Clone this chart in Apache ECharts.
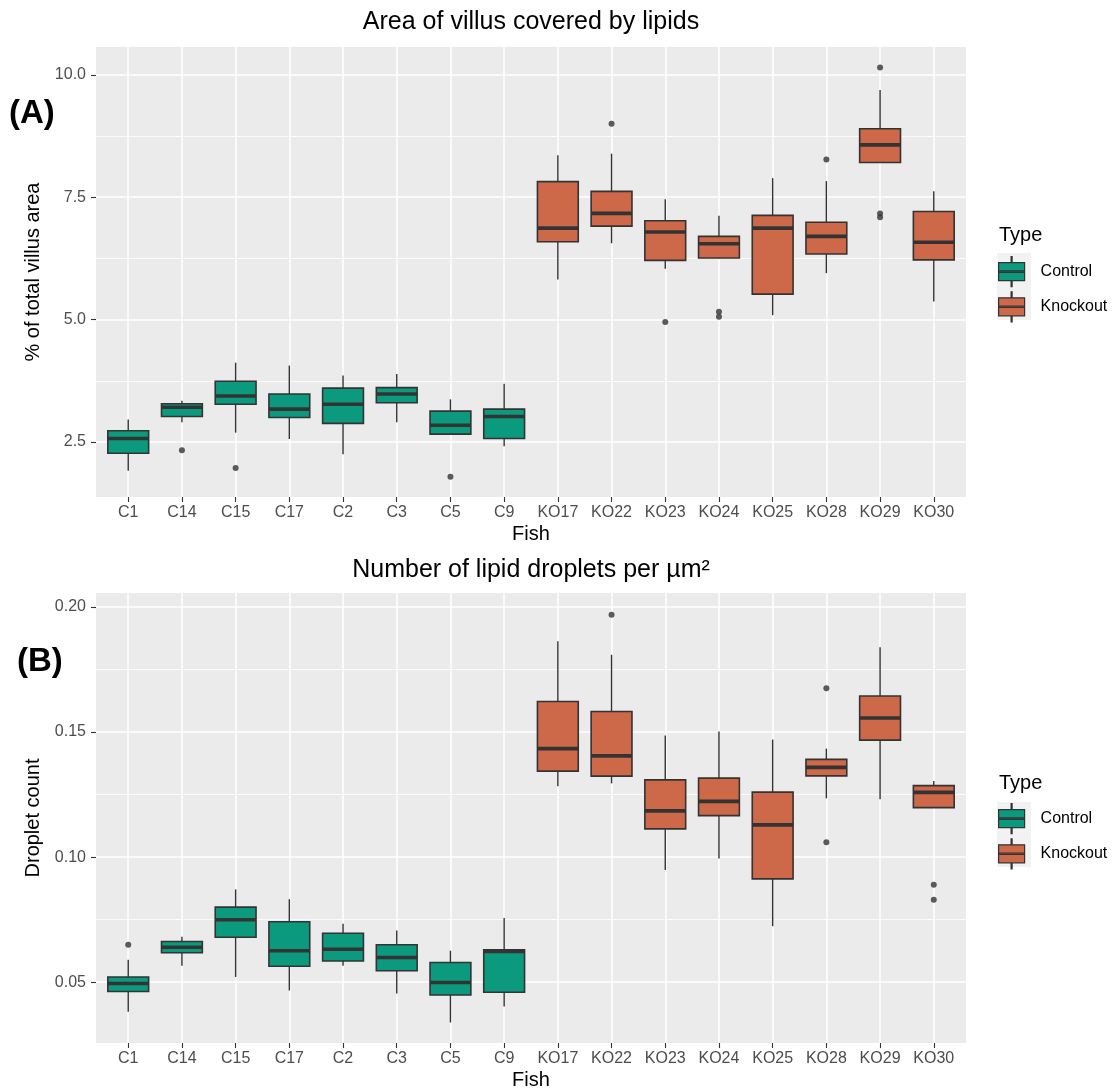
<!DOCTYPE html>
<html><head><meta charset="utf-8">
<script src="https://cdn.jsdelivr.net/npm/echarts@6/dist/echarts.min.js"></script>
<style>html,body{margin:0;padding:0;background:#fff}#c{width:1118px;height:1091px}</style>
</head><body><div id="c"></div>
<script>
// ---------- data ----------
const fish = ['C1','C14','C15','C17','C2','C3','C5','C9','KO17','KO22','KO23','KO24','KO25','KO28','KO29','KO30'];
const fishPos = [1,2,3,4,5,6,7,8,9,10,11,12,13,14,15,16];
const controlFish = ['C1','C14','C15','C17','C2','C3','C5','C9'];
const knockoutFish = ['KO17','KO22','KO23','KO24','KO25','KO28','KO29','KO30'];

// [lower whisker, Q1, median, Q3, upper whisker]
const areaControl = [
  [1.91, 2.27, 2.57, 2.73, 2.96],
  [2.90, 3.02, 3.21, 3.28, 3.34],
  [2.69, 3.27, 3.44, 3.74, 4.12],
  [2.56, 3.00, 3.17, 3.48, 4.06],
  [2.25, 2.88, 3.27, 3.60, 3.86],
  [2.90, 3.30, 3.48, 3.61, 3.89],
  [2.66, 2.66, 2.84, 3.13, 3.37],
  [2.41, 2.57, 3.02, 3.17, 3.69]
];
const areaKnockout = [
  [5.82, 6.59, 6.87, 7.82, 8.36],
  [6.56, 6.91, 7.17, 7.62, 8.39],
  [6.04, 6.21, 6.79, 7.02, 7.46],
  [6.25, 6.26, 6.55, 6.70, 7.12],
  [5.09, 5.52, 6.87, 7.13, 7.89],
  [5.95, 6.34, 6.70, 6.99, 7.83],
  [8.20, 8.21, 8.57, 8.90, 9.69],
  [5.37, 6.22, 6.58, 7.21, 7.62]
];
const areaOutliers = [
  ['C14', 2.33], ['C15', 1.97], ['C5', 1.79],
  ['KO22', 9.00], ['KO23', 4.95], ['KO24', 5.16], ['KO24', 5.06],
  ['KO28', 8.27], ['KO29', 10.15], ['KO29', 7.17], ['KO29', 7.09]
];

const dropControl = [
  [0.0382, 0.0463, 0.0495, 0.0521, 0.0590],
  [0.0566, 0.0618, 0.0640, 0.0663, 0.0682],
  [0.0521, 0.0680, 0.0750, 0.0800, 0.0871],
  [0.0467, 0.0564, 0.0626, 0.0742, 0.0832],
  [0.0566, 0.0585, 0.0632, 0.0696, 0.0734],
  [0.0455, 0.0546, 0.0599, 0.0650, 0.0707],
  [0.0339, 0.0449, 0.0499, 0.0579, 0.0626],
  [0.0403, 0.0460, 0.0623, 0.0630, 0.0757]
];
const dropKnockout = [
  [0.1283, 0.1344, 0.1434, 0.1622, 0.1863],
  [0.1295, 0.1324, 0.1405, 0.1582, 0.1809],
  [0.0949, 0.1113, 0.1185, 0.1309, 0.1486],
  [0.0995, 0.1166, 0.1223, 0.1316, 0.1502],
  [0.0724, 0.0913, 0.1129, 0.1260, 0.1470],
  [0.1235, 0.1325, 0.1359, 0.1391, 0.1434],
  [0.1231, 0.1468, 0.1556, 0.1644, 0.1839],
  [0.1198, 0.1198, 0.1259, 0.1286, 0.1304]
];
const dropOutliers = [
  ['C1', 0.0650],
  ['KO22', 0.1969], ['KO28', 0.1675], ['KO28', 0.1060],
  ['KO30', 0.0890], ['KO30', 0.0830]
];

const areaTicks = [2.5, 5.0, 7.5, 10.0];
const areaMinorTicks = [3.75, 6.25, 8.75];
const areaRange = [1.375, 10.57];
const dropTicks = [0.05, 0.10, 0.15, 0.20];
const dropMinorTicks = [0.075, 0.125, 0.175];
const dropRange = [0.0257, 0.2056];

const typeNames = ['Control', 'Knockout'];

// ---------- styles ----------
const FONT = '"Liberation Sans", Arial, sans-serif';
const COL_CONTROL = '#0B9A7E';
const COL_KO = '#CD6849';
const DARK = '#333333';

function pos(name) { return fishPos[fish.indexOf(name)]; }
function boxData(names, stats) { return names.map((n, i) => [pos(n)].concat(stats[i])); }
function outData(list) { return list.map(o => [pos(o[0]), o[1]]); }

function renderBox(params, api) {
  const x = api.value(0);
  const lo = api.coord([x, api.value(1)]);
  const q1 = api.coord([x, api.value(2)]);
  const md = api.coord([x, api.value(3)]);
  const q3 = api.coord([x, api.value(4)]);
  const hi = api.coord([x, api.value(5)]);
  const w = api.size([0.76, 0])[0];
  const cx = lo[0];
  const ls = { stroke: DARK, lineWidth: 1.4 };
  return {
    type: 'group',
    children: [
      { type: 'line', shape: { x1: cx, y1: hi[1], x2: cx, y2: q3[1] }, style: ls },
      { type: 'line', shape: { x1: cx, y1: q1[1], x2: cx, y2: lo[1] }, style: ls },
      { type: 'rect', shape: { x: cx - w / 2, y: q3[1], width: w, height: q1[1] - q3[1] },
        style: { fill: api.visual('color'), stroke: DARK, lineWidth: 1.6 } },
      { type: 'line', shape: { x1: cx - w / 2, y1: md[1], x2: cx + w / 2, y2: md[1] },
        style: { stroke: DARK, lineWidth: 3.6 } }
    ]
  };
}

function xAx(grid) {
  return {
    type: 'value', gridIndex: grid, min: 0.4, max: 16.6,
    name: 'Fish', nameLocation: 'middle', nameGap: 27,
    nameTextStyle: { color: '#000', fontSize: 20, fontFamily: FONT },
    axisLine: { show: false },
    axisTick: { show: true, customValues: fishPos, length: 5, lineStyle: { color: DARK, width: 1.1 } },
    axisLabel: { customValues: fishPos, formatter: v => fish[Math.round(v) - 1], color: '#4D4D4D',
      fontSize: 16, margin: 8, fontFamily: FONT },
    splitLine: { show: true, lineStyle: { color: '#FFFFFF', width: 1.5 } }
  };
}
function yAx(grid, range, ticks, name, fmt) {
  return {
    type: 'value', gridIndex: grid, min: range[0], max: range[1],
    name: name, nameLocation: 'middle', nameGap: 43,
    nameTextStyle: { color: '#000', fontSize: 20, fontFamily: FONT },
    axisLine: { show: false },
    axisTick: { show: true, customValues: ticks, length: 5, lineStyle: { color: DARK, width: 1.1 } },
    axisLabel: { customValues: ticks, formatter: fmt, color: '#4D4D4D', fontSize: 16, margin: 10, fontFamily: FONT },
    splitLine: { show: true, lineStyle: { color: '#FFFFFF', width: 1.5 } }
  };
}
function yMinor(grid, range, ticks) {
  return {
    type: 'value', gridIndex: grid, min: range[0], max: range[1], position: 'left',
    axisLine: { show: false },
    axisTick: { show: false, customValues: ticks },
    axisLabel: { show: false },
    splitLine: { show: true, lineStyle: { color: '#FFFFFF', width: 0.8 } }
  };
}

function boxSeries(name, color, xi, yi, data) {
  return {
    type: 'custom', name: name, xAxisIndex: xi, yAxisIndex: yi,
    itemStyle: { color: color },
    encode: { x: 0, y: [1, 2, 3, 4, 5] },
    renderItem: renderBox, data: data, z: 3
  };
}
function outSeries(xi, yi, data) {
  return {
    type: 'scatter', name: 'outliers', xAxisIndex: xi, yAxisIndex: yi,
    symbolSize: 6, itemStyle: { color: DARK }, data: data, z: 4, silent: true
  };
}

const legendIcon = 'path://M13,0 H14 V6 H13 Z M0.5,6 H26.5 V24 H0.5 Z M0.5,14.3 H26.5 V15.7 H0.5 Z M13,24 H14 V30 H13 Z';
function legend(top) {
  return {
    orient: 'vertical', left: 998, top: top, padding: 0,
    itemWidth: 28, itemHeight: 30, itemGap: 4,
    data: typeNames.map(n => ({ name: n, icon: legendIcon })),
    itemStyle: { borderColor: DARK, borderWidth: 1.2 },
    textStyle: { color: '#000', fontSize: 16, fontFamily: FONT, padding: [0, 0, 0, 10] },
    selectedMode: false
  };
}

const chart = echarts.init(document.getElementById('c'), null, { renderer: 'canvas' });
chart.setOption({
  animation: false,
  backgroundColor: '#FFFFFF',
  title: [
    { text: 'Area of villus covered by lipids', left: 531, top: 10, textAlign: 'center', padding: 0,
      textStyle: { fontSize: 25, fontWeight: 'normal', color: '#000', fontFamily: FONT } },
    { text: 'Number of lipid droplets per µm²', left: 531, top: 558, textAlign: 'center', padding: 0,
      textStyle: { fontSize: 25, fontWeight: 'normal', color: '#000', fontFamily: FONT } },
    { text: 'Type', left: 999, top: 225, padding: 0,
      textStyle: { fontSize: 20, fontWeight: 'normal', color: '#000', fontFamily: FONT } },
    { text: 'Type', left: 999, top: 773, padding: 0,
      textStyle: { fontSize: 20, fontWeight: 'normal', color: '#000', fontFamily: FONT } },
    { text: '(A)', left: 9, top: 97, padding: 0,
      textStyle: { fontSize: 33, fontWeight: 'bold', color: '#000', fontFamily: FONT } },
    { text: '(B)', left: 17, top: 645, padding: 0,
      textStyle: { fontSize: 33, fontWeight: 'bold', color: '#000', fontFamily: FONT } }
  ],
  graphic: [
    { type: 'rect', shape: { x: 997, y: 253, width: 34, height: 67 }, style: { fill: '#F2F2F2' }, z: 0 },
    { type: 'rect', shape: { x: 997, y: 802, width: 34, height: 65 }, style: { fill: '#F2F2F2' }, z: 0 }
  ],
  legend: [legend(256), legend(803)],
  grid: [
    { left: 96, top: 47, width: 870, height: 450, show: true, backgroundColor: '#EBEBEB', borderWidth: 0 },
    { left: 96, top: 593, width: 870, height: 452, show: true, backgroundColor: '#EBEBEB', borderWidth: 0 }
  ],
  xAxis: [xAx(0), xAx(1)],
  yAxis: [
    yAx(0, areaRange, areaTicks, '% of total villus area', v => v.toFixed(1)),
    yMinor(0, areaRange, areaMinorTicks),
    yAx(1, dropRange, dropTicks, 'Droplet count', v => v.toFixed(2)),
    yMinor(1, dropRange, dropMinorTicks)
  ],
  series: [
    boxSeries('Control', COL_CONTROL, 0, 0, boxData(controlFish, areaControl)),
    boxSeries('Knockout', COL_KO, 0, 0, boxData(knockoutFish, areaKnockout)),
    outSeries(0, 0, outData(areaOutliers)),
    boxSeries('Control', COL_CONTROL, 1, 2, boxData(controlFish, dropControl)),
    boxSeries('Knockout', COL_KO, 1, 2, boxData(knockoutFish, dropKnockout)),
    outSeries(1, 2, outData(dropOutliers))
  ]
});
</script></body></html>
